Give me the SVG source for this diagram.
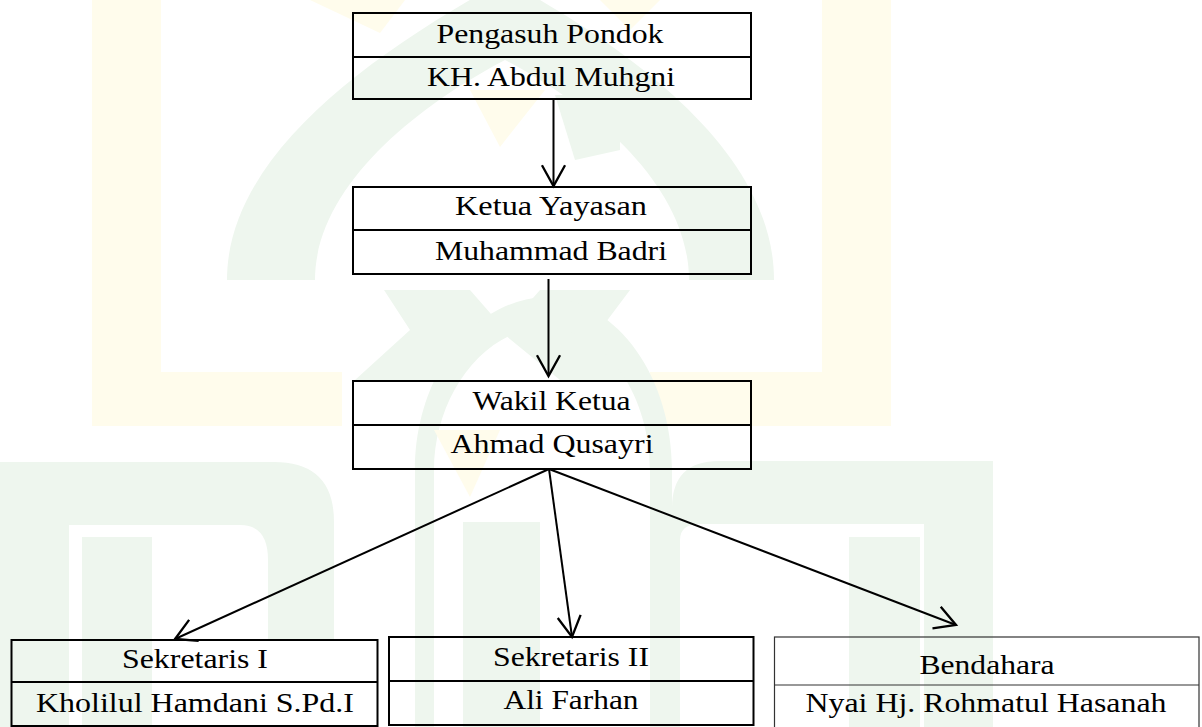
<svg xmlns="http://www.w3.org/2000/svg" width="1202" height="727" viewBox="0 0 1202 727">
<style>
.wg{fill:#eef6ee}
.wy{fill:#fffcec}
.box{fill:none;stroke:#000;stroke-width:2}
.box.thin{stroke:#333;stroke-width:1.2}
.t{font-family:"Liberation Serif","Times New Roman",serif;font-size:28px;fill:#000;text-anchor:middle}
.con{fill:none;stroke:#000;stroke-width:2}
</style>
<defs>
<marker id="arr" markerUnits="userSpaceOnUse" markerWidth="30" markerHeight="30" viewBox="-22 -13 26 26" refX="0" refY="0" orient="auto" overflow="visible">
<path d="M-18,-10 L0,0 L-18,10" fill="none" stroke="#000" stroke-width="2"/>
</marker>
</defs>
<rect width="1202" height="727" fill="#fff"/>
<g id="watermark">
<rect class="wy" x="92" y="0" width="69" height="426"/>
<rect class="wy" x="92" y="372" width="250" height="54"/>
<rect class="wy" x="822" y="0" width="69" height="426"/>
<rect class="wy" x="650" y="372" width="241" height="54"/>
<polygon class="wy" points="310,0 405,0 380,33"/>
<polygon class="wy" points="600,0 660,0 630,30"/>
<path class="wg" d="M227,280 C227,160 360,60 505,-20 C650,60 774,160 774,280 L689,280 C689,190 600,110 505,60 C410,110 315,190 315,280 Z"/>
<polygon class="wy" points="470,90 545,90 500,147"/>
<polygon class="wg" points="555,95 620,95 620,150 575,160"/>
<path class="wg" d="M384,290 L470,290 L505,330 L540,290 L630,290 L600,330 L653,380 L560,380 L505,335 L450,380 L355,380 L410,330 Z"/>
<path class="wg" d="M415,727 V470 C415,380 470,300 545,297 C620,300 672,380 672,470 V727 H650 V470 C650,400 610,330 545,327 C480,330 434,400 434,470 V727 Z"/>
<polygon class="wy" points="434,430 500,430 470,497"/>
<rect class="wg" x="463" y="522" width="77" height="205"/>
<path class="wg" d="M-10,462 H274 Q334,462 334,522 V640 H268 V560 Q268,525 240,525 H69 V727 H-10 Z"/>
<rect class="wg" x="82" y="537" width="70" height="190"/>
<path class="wg" d="M993,461 H719 Q672,461 672,508 V727 H680 V540 Q680,524 700,524 H924 V727 H993 Z"/>
<rect class="wg" x="849" y="537" width="71" height="190"/>
</g>
<g id="connectors">
<line class="con" x1="553.5" y1="99" x2="553.5" y2="186" marker-end="url(#arr)"/>
<line class="con" x1="548.5" y1="279" x2="548.5" y2="376" marker-end="url(#arr)"/>
<line class="con" x1="549" y1="469" x2="175" y2="639" marker-end="url(#arr)"/>
<line class="con" x1="549" y1="469" x2="572" y2="637" marker-end="url(#arr)"/>
<line class="con" x1="549" y1="469" x2="956" y2="625" marker-end="url(#arr)"/>
</g>
<g id="pengasuh">
<rect class="box" x="353" y="13" width="398" height="86"/>
<line class="box" x1="353" y1="57" x2="751" y2="57"/>
<text class="t" x="550" y="43" textLength="227" lengthAdjust="spacingAndGlyphs">Pengasuh Pondok</text>
<text class="t" x="551" y="86" textLength="248" lengthAdjust="spacingAndGlyphs">KH. Abdul Muhgni</text>
</g>
<g id="ketua">
<rect class="box" x="353" y="187" width="398" height="87"/>
<line class="box" x1="353" y1="230" x2="751" y2="230"/>
<text class="t" x="551" y="215" textLength="192" lengthAdjust="spacingAndGlyphs">Ketua Yayasan</text>
<text class="t" x="551" y="260" textLength="232" lengthAdjust="spacingAndGlyphs">Muhammad Badri</text>
</g>
<g id="wakil">
<rect class="box" x="353" y="381" width="398" height="88"/>
<line class="box" x1="353" y1="425" x2="751" y2="425"/>
<text class="t" x="551.5" y="410" textLength="158" lengthAdjust="spacingAndGlyphs">Wakil Ketua</text>
<text class="t" x="552" y="453" textLength="203" lengthAdjust="spacingAndGlyphs">Ahmad Qusayri</text>
</g>
<g id="sekretaris1">
<rect class="box" x="11.5" y="640" width="366" height="86"/>
<line class="box" x1="11.5" y1="682" x2="377.5" y2="682"/>
<text class="t" x="195" y="668" textLength="146" lengthAdjust="spacingAndGlyphs">Sekretaris I</text>
<text class="t" x="195" y="712" textLength="318" lengthAdjust="spacingAndGlyphs">Kholilul Hamdani S.Pd.I</text>
</g>
<g id="sekretaris2">
<rect class="box" x="389" y="637" width="364.5" height="88"/>
<line class="box" x1="389" y1="681" x2="753.5" y2="681"/>
<text class="t" x="571" y="666" textLength="156" lengthAdjust="spacingAndGlyphs">Sekretaris II</text>
<text class="t" x="571" y="709" textLength="135" lengthAdjust="spacingAndGlyphs">Ali Farhan</text>
</g>
<g id="bendahara">
<rect class="box thin" x="774.5" y="637" width="424.5" height="95"/>
<line class="box thin" x1="774.5" y1="685" x2="1199" y2="685"/>
<text class="t" x="987" y="674" textLength="135" lengthAdjust="spacingAndGlyphs">Bendahara</text>
<text class="t" x="986" y="712" textLength="361" lengthAdjust="spacingAndGlyphs">Nyai Hj. Rohmatul Hasanah</text>
</g>
</svg>
